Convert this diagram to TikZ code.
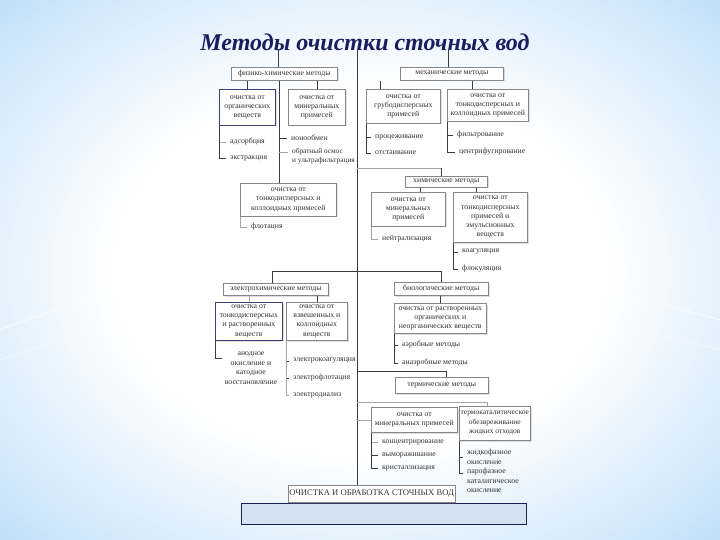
\documentclass[tikz,border=0pt]{standalone}
\usepackage{fontspec}
\setmainfont{Liberation Serif}
\usetikzlibrary{calc,shadows}
\definecolor{bgblue}{RGB}{130,190,240}
\definecolor{bgmid}{RGB}{205,230,250}
\definecolor{navy}{RGB}{25,30,95}
\definecolor{boxline}{RGB}{135,135,135}
\definecolor{conn}{RGB}{60,60,60}
\definecolor{baseblue}{RGB}{212,225,238}
\pgfdeclareradialshading{bgshade}{\pgfpoint{0bp}{0bp}}{color(0bp)=(white); color(17bp)=(white); color(32bp)=(bgmid); color(50bp)=(bgblue); color(72bp)=(bgblue)}
\tikzset{
  box/.style={draw=boxline, fill=white, line width=0.6pt, align=center,
    font=\fontsize{7.8}{9.2}\selectfont, text=black!80, inner sep=1pt, anchor=north west,
    drop shadow={shadow xshift=1.2pt, shadow yshift=-1.2pt, opacity=0.25}},
  navybox/.style={box, draw=navy!85},
  item/.style={font=\fontsize{7.8}{9.4}\selectfont, text=black!80, anchor=west, inner sep=1pt, align=left},
  con/.style={draw=conn, line width=0.6pt},
  lcon/.style={draw=black!35, line width=0.6pt},
}
\begin{document}
\begin{tikzpicture}[x=1pt,y=-1pt]
\useasboundingbox (0,0) rectangle (720,540);
\shade[shading=bgshade] (0,0) rectangle (720,540);
\draw[white, opacity=0.6, line width=1.2pt] (0,330) .. controls (200,250) and (480,250) .. (720,320);
\draw[white, opacity=0.4, line width=1pt] (0,360) .. controls (220,280) and (500,290) .. (720,350);

\node[font=\fontsize{24}{26}\selectfont\bfseries\itshape, text=navy] (title) at (365,42) {Методы очистки сточных вод};

% coordinates
\coordinate (t0) at (357,50);
\coordinate (tl) at (278,50);
\coordinate (tr) at (448,50);
\coordinate (lx) at (279,0);
\coordinate (mx1) at (380,0);
\coordinate (mx2) at (472,0);
\coordinate (cx) at (441,168);
\coordinate (cx1) at (420,0);
\coordinate (cx2) at (476,0);
\coordinate (h2l) at (272,271);
\coordinate (h2r) at (441,271);
\coordinate (h3) at (446,371);
\coordinate (h4) at (487,402);

% base
\node[draw=navy, line width=0.8pt, fill=baseblue, minimum width=285, minimum height=21, anchor=north west, inner sep=0pt] (base) at (241,503) {};

% boxes
\node[box, minimum width=106, minimum height=13] (pc) at (231,67) {физико-химические методы};
\node[box, minimum width=103, minimum height=13] (mech) at (400,67) {механические методы};
\node[navybox, minimum width=56, minimum height=36] (org) at (219,89) {очистка от\\органических\\веществ};
\node[box, minimum width=57, minimum height=36] (min1) at (288,89) {очистка от\\минеральных\\примесей};
\node[box, minimum width=74, minimum height=34] (coarse) at (366,89) {очистка от\\грубодисперсных\\примесей};
\node[box, minimum width=81, minimum height=32] (fine1) at (447,89) {очистка от\\тонкодисперсных и\\коллоидных примесей};
\node[box, minimum width=96, minimum height=33] (fine2) at (240,183) {очистка от\\тонкодисперсных и\\коллоидных примесей};
\node[box, minimum width=82, minimum height=11] (chem) at (405,176) {химические методы};
\node[box, minimum width=74, minimum height=34] (min2) at (371,192) {очистка от\\минеральных\\примесей};
\node[box, minimum width=74, minimum height=50] (fine3) at (453,192) {очистка от\\тонкодисперсных\\примесей и\\эмульсионных\\веществ};
\node[box, minimum width=105, minimum height=12] (electro) at (223,283) {электрохимические методы};
\node[box, minimum width=94, minimum height=13] (bio) at (394,282) {биологические методы};
\node[navybox, minimum width=67, minimum height=38] (el1) at (215,302) {очистка от\\тонкодисперсных\\и растворенных\\веществ};
\node[box, minimum width=61, minimum height=38] (el2) at (286,302) {очистка от\\взвешенных и\\коллоидных\\веществ};
\node[box, minimum width=92, minimum height=30] (bio1) at (394,303) {очистка от растворенных\\органических и\\неорганических веществ};
\node[box, minimum width=93, minimum height=16] (therm) at (395,377) {термические методы};
\node[box, minimum width=86, minimum height=25] (min3) at (371,407) {очистка от\\минеральных примесей};
\node[box, minimum width=71, minimum height=34, font=\fontsize{7.5}{9.6}\selectfont] (tcat) at (459,406) {термокаталитическое\\обезвреживание\\жидких отходов};
\node[box, minimum width=165, minimum height=17, font=\fontsize{8.6}{10}\selectfont] (bottom) at (288,485) {ОЧИСТКА И ОБРАБОТКА СТОЧНЫХ ВОД};

% items
\node[item] (ads) at (229,142) {адсорбция};
\node[item] (ext) at (229,158) {экстракция};
\node[item] (ion) at (290,138) {ионообмен};
\node[item, anchor=north west, font=\fontsize{7.3}{9.4}\selectfont] (osm) at (291,147) {обратный осмос\\и ультрафильтрация};
\coordinate (osmt) at (288,152);
\node[item] (flot) at (250,227) {флотация};
\node[item] (proc) at (374,137) {процеживание};
\node[item] (ots) at (374,153) {отстаивание};
\node[item] (filt) at (456,135) {фильтрование};
\node[item] (cent) at (458,152) {центрифугирование};
\node[item] (neut) at (381,239) {нейтрализация};
\node[item] (coag) at (461,252) {коагуляция};
\node[item] (floc) at (461,269) {флокуляция};
\node[item, anchor=north, align=center] (anod) at (251,351) {анодное\\окисление и\\катодное\\восстановление};
\coordinate (anodt) at (222,358);
\node[item] (ecoag) at (292,361) {электрокоагуляция};
\node[item] (eflot) at (292,378) {электрофлотация};
\node[item] (edial) at (292,395) {электродиализ};
\node[item] (aer) at (401,345) {аэробные методы};
\node[item] (anaer) at (401,363) {анаэробные методы};
\node[item] (konc) at (381,442) {концентрирование};
\node[item] (vym) at (381,455) {вымораживание};
\node[item] (krist) at (381,468) {кристаллизация};
\node[item] (zhid) at (466,457) {жидкофазное\\окисление};
\node[item, anchor=north west] (par) at (466,467) {парофазное\\каталитическое\\окисление};
\coordinate (part) at (463,473);

% connectors
\draw[con] (t0) -- (bottom.north -| t0);
\draw[con] (tl) -- (tl |- pc.north);
\draw[con] (tr) -- (tr |- mech.north);
\draw[con] (org.north) -- (org.north |- pc.south);
\draw[con] (min1.north) -- (min1.north |- pc.south);
\draw[con] (pc.south -| lx) -- (fine2.north -| lx);
\draw[lcon] (org.south west) |- ([xshift=-3pt]ads.west);
\draw[con] (org.south west) |- ([xshift=-3pt]ext.west);
\draw[con] (ion.west -| lx) -- ([xshift=-3pt]ion.west);
\draw[lcon] (osmt -| lx) -- (osmt);
\draw[lcon] (fine2.south west) |- ([xshift=-3pt]flot.west);
\draw[con] (mech.south -| mx1) -- (coarse.north -| mx1);
\draw[con] (mech.south -| mx2) -- (fine1.north -| mx2);
\draw[con] (coarse.south west) |- ([xshift=-3pt]proc.west);
\draw[con] (coarse.south west) |- ([xshift=-3pt]ots.west);
\draw[con] (fine1.south west) |- ([xshift=-3pt]filt.west);
\draw[con] (fine1.south west) |- ([xshift=-3pt]cent.west);
\draw[lcon] (cx -| t0) -- (cx);
\draw[con] (cx) -- (cx |- chem.north);
\draw[con] (chem.south -| cx1) -- (min2.north -| cx1);
\draw[con] (chem.south -| cx2) -- (fine3.north -| cx2);
\draw[lcon] (min2.south west) |- ([xshift=-3pt]neut.west);
\draw[con] (fine3.south west) |- ([xshift=-3pt]coag.west);
\draw[con] (fine3.south west) |- ([xshift=-3pt]floc.west);
\draw[con] (electro.north -| h2l) -- (h2l) -- (h2r) -- (bio.north -| h2r);
\draw[lcon] (el1.north) -- (el1.north |- electro.south);
\draw[con] (el2.north) -- (el2.north |- electro.south);
\draw[con] (el1.south west) |- (anodt);
\draw[con] (el2.south west) |- ([xshift=-3pt]ecoag.west);
\draw[con] (el2.south west) |- ([xshift=-3pt]eflot.west);
\draw[lcon] (el2.south west) |- ([xshift=-3pt]edial.west);
\draw[con] (bio1.north) -- (bio1.north |- bio.south);
\draw[con] (bio1.south west) |- ([xshift=-3pt]aer.west);
\draw[con] (bio1.south west) |- ([xshift=-3pt]anaer.west);
\draw[con] (h3 -| t0) -- (h3) -- (h3 |- therm.north);
\draw[lcon] (h4 -| t0) -- (h4) -- (h4 |- tcat.north);
\draw[lcon] (min3.west -| t0) -- (min3.west);
\draw[lcon] (min3.south west) |- ([xshift=-3pt]konc.west);
\draw[con] (min3.south west) |- ([xshift=-3pt]vym.west);
\draw[con] (min3.south west) |- ([xshift=-3pt]krist.west);
\draw[con] (tcat.south west) |- ([xshift=-3pt]zhid.west);
\draw[con] (tcat.south west) |- (part);
\end{tikzpicture}
\end{document}
